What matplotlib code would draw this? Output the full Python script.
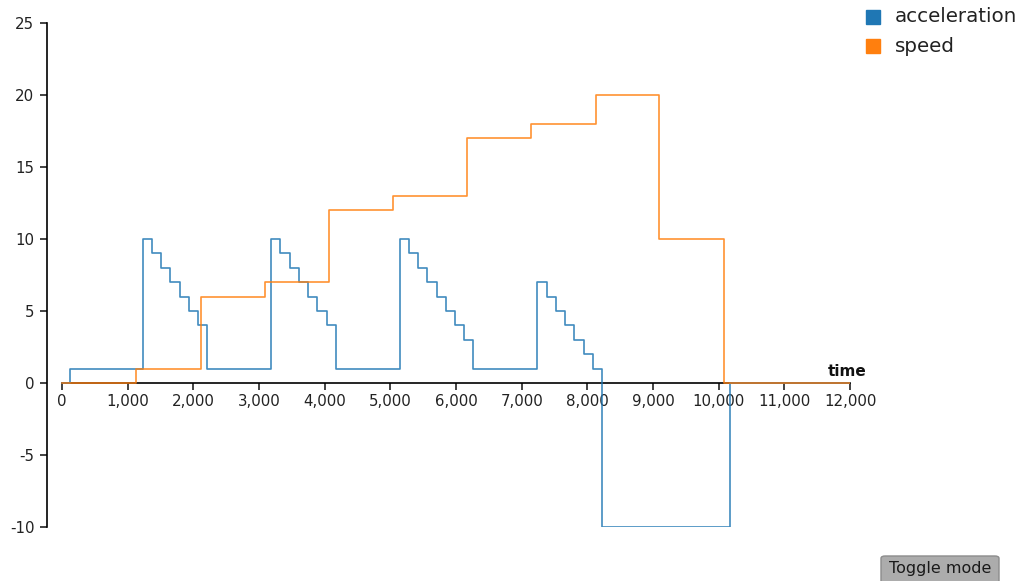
"""Step chart of acceleration and speed over time."""

import matplotlib as mpl

mpl.use("Agg")
import matplotlib.pyplot as plt
from matplotlib.patches import Rectangle, FancyBboxPatch
from matplotlib.ticker import FuncFormatter

mpl.rcParams["axes.unicode_minus"] = False

# acceleration samples (time, value), drawn as steps
accel_time = [0, 117, 1234, 1366, 1508, 1650, 1792, 1929, 2071, 2213,
              3190, 3325, 3472, 3614, 3751, 3888, 4030, 4173,
              5142, 5284, 5421, 5563, 5705, 5843, 5985, 6122, 6264,
              7240, 7383, 7525, 7665, 7802, 7944, 8081, 8223, 10180, 12000]
accel_value = [0, 1, 10, 9, 8, 7, 6, 5, 4, 1,
               10, 9, 8, 7, 6, 5, 4, 1,
               10, 9, 8, 7, 6, 5, 4, 3, 1,
               7, 6, 5, 4, 3, 2, 1, -10, 0, 0]

# speed samples (time, value)
speed_time = [0, 1132, 2117, 3096, 4071, 5046, 6168, 7147, 8127, 9096, 10076, 12000]
speed_value = [0, 1, 6, 7, 12, 13, 17, 18, 20, 10, 0, 0]

series_names = ["acceleration", "speed"]
series_colors = ["#1f77b4", "#ff7f0e"]

W, H = 1028, 581
fig = plt.figure(figsize=(W / 100, H / 100), dpi=100)


def fx(px):
    return px / W


def fy(py):
    return 1 - py / H


# axes box in pixels: y axis at x=47, 0 at x=62, 12000 at x=850
x_left_px, x0_px, x_right_px = 47, 62, 850
top_px, bottom_px = 23, 527
ax = fig.add_axes([fx(x_left_px), fy(bottom_px),
                   fx(x_right_px - x_left_px), (bottom_px - top_px) / H])
scale = (x_right_px - x0_px) / 12000
ax.set_xlim(-(x0_px - x_left_px) / scale, 12000)
ax.set_ylim(-10, 25)

ax.step(accel_time, accel_value, where="post", color=series_colors[0],
        lw=1.2, alpha=0.85, zorder=3)
ax.step(speed_time, speed_value, where="post", color=series_colors[1],
        lw=1.2, alpha=0.85, zorder=4)

for side in ["top", "right"]:
    ax.spines[side].set_visible(False)
ax.spines["bottom"].set_position(("data", 0))
ax.spines["bottom"].set_bounds(0, 12000)
ax.spines["bottom"].set_linewidth(1.2)
ax.spines["left"].set_linewidth(1.2)

ax.set_xticks(range(0, 12001, 1000))
ax.xaxis.set_major_formatter(FuncFormatter(lambda v, p: f"{int(v):,}"))
ax.set_yticks(range(-10, 26, 5))
ax.yaxis.set_major_formatter(FuncFormatter(lambda v, p: f"{int(v)}"))
ax.tick_params(axis="x", length=5, width=1.2, pad=3, labelsize=10.8, colors="#222222")
ax.tick_params(axis="y", length=5, width=1.2, pad=4, labelsize=10.8, colors="#222222")

fig.text(fx(866), fy(376), "time", ha="right", va="baseline", fontsize=11,
         fontweight="bold", color="#111111")

# legend in the top right corner
for i, (name, color) in enumerate(zip(series_names, series_colors)):
    y = 10 + i * 29
    fig.patches.append(Rectangle((fx(866), fy(y + 14)), fx(14), 14 / H,
                                 transform=fig.transFigure, color=color))
    fig.text(fx(895), fy(y + 7), name, ha="left", va="center",
             fontsize=14.3, color="#222222")

# toggle button
fig.patches.append(FancyBboxPatch((fx(881), fy(590)), fx(118), 34 / H,
                                  boxstyle="round,pad=0,rounding_size=0.004",
                                  transform=fig.transFigure,
                                  fc="#acacac", ec="#8c8c8c", lw=1))
fig.text(fx(940), fy(568), "Toggle mode", ha="center", va="center",
         fontsize=11.5, color="#1a1a1a")

plt.savefig("out.png", dpi=100)
